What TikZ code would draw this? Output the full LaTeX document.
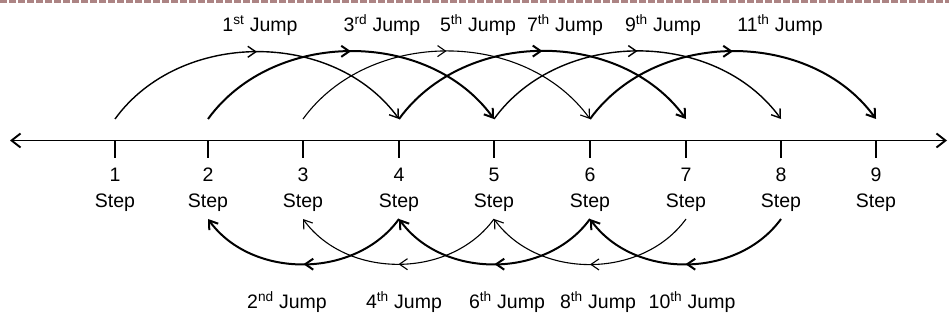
\documentclass[tikz,border=0pt]{standalone}
\usepackage{fontspec}
\setmainfont{Liberation Sans}
\usetikzlibrary{arrows.meta,decorations.markings}

\begin{document}
\begin{tikzpicture}[x=1pt,y=1pt]
        \tikzset{axis/.style={{Straight Barb[length=9pt, width=14pt]}-{Straight Barb[length=9pt, width=14pt]}, line width=1.9pt}}
        \tikzset{jump/.style={-{Straight Barb[length=8pt, width=11pt]}, line width=1.4pt, postaction={decorate},
            decoration={markings, mark=at position 0.5 with {\arrow{Straight Barb[length=8pt, width=11pt]}}}}}
        \tikzset{bold/.style={line width=2pt}, faint/.style={line width=1.1pt}}
        \tikzset{lbl/.style={font=\fontsize{19.5}{22}\selectfont, inner sep=0pt, anchor=base}}
        \useasboundingbox (0,0) rectangle (949,320);
        % frame edge on top
        \draw[line width=3pt, color={rgb,255:red,172;green,132;blue,132}, dash pattern=on 7pt off 2pt] (0,318.5) -- (949,318.5);

        % number line
        \coordinate (left) at (10,179.5);
        \coordinate (right) at (947,179.5);
        \draw[axis] (left) -- (right);
        \foreach \i/\x in {1/115,2/208,3/303,4/399,5/494,6/590,7/686,8/781,9/876}{
            \coordinate (t\i) at (\x,179.5);
            \draw[line width=1.5pt] (t\i) -- ++(0,-18);
            \node[lbl] (n\i) at (\x,138) {\i};
            \node[lbl] (s\i) at (\x,112) {Step};
            \coordinate (u\i) at (\x,201);
            \coordinate (d\i) at (\x,101);
        }

        % odd jumps, forward over the line
        \draw[jump] (u1) to[out=54, in=126] (u4);
        \draw[jump, bold] (u2) to[out=54, in=126] (u5);
        \draw[jump, faint] (u3) to[out=54, in=126] (u6);
        \draw[jump, bold] (u4) to[out=54, in=126] (u7);
        \draw[jump] (u5) to[out=54, in=126] (u8);
        \draw[jump, bold] (u6) to[out=54, in=126] (u9);

        % even jumps, back under the line
        \draw[jump, bold] (d4) to[out=-126, in=-54] (d2);
        \draw[jump, faint] (d5) to[out=-126, in=-54] (d3);
        \draw[jump, bold] (d6) to[out=-126, in=-54] (d4);
        \draw[jump, faint] (d7) to[out=-126, in=-54] (d5);
        \draw[jump, bold] (d8) to[out=-126, in=-54] (d6);

        \node[lbl] (j1) at (260,288) {1\textsuperscript{st} Jump};
        \node[lbl] (j3) at (382,288) {3\textsuperscript{rd} Jump};
        \node[lbl] (j5) at (478,288) {5\textsuperscript{th} Jump};
        \node[lbl] (j7) at (565,288) {7\textsuperscript{th} Jump};
        \node[lbl] (j9) at (663,288) {9\textsuperscript{th} Jump};
        \node[lbl] (j11) at (780,288) {11\textsuperscript{th} Jump};
        \node[lbl] (j2) at (287,11) {2\textsuperscript{nd} Jump};
        \node[lbl] (j4) at (404,11) {4\textsuperscript{th} Jump};
        \node[lbl] (j6) at (507,11) {6\textsuperscript{th} Jump};
        \node[lbl] (j8) at (598,11) {8\textsuperscript{th} Jump};
        \node[lbl] (j10) at (692,11) {10\textsuperscript{th} Jump};
\end{tikzpicture}
\end{document}
